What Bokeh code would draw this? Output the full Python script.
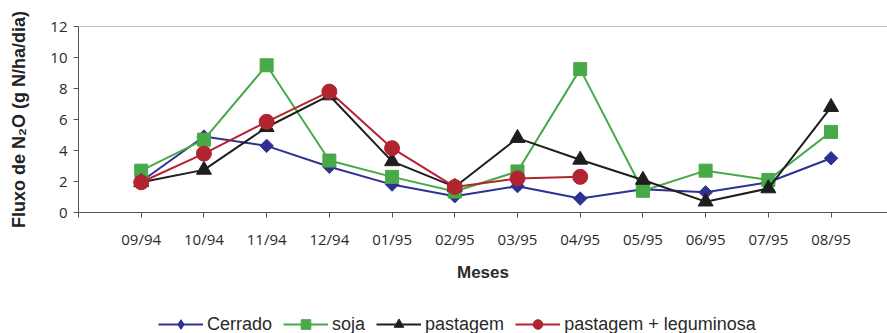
import math
from bokeh.plotting import figure
from bokeh.layouts import column
from bokeh.models import (FixedTicker, Span, Legend, LegendItem, ColumnDataSource, Range1d)
from bokeh.embed import file_html
from bokeh.resources import INLINE

meses = ["09/94", "10/94", "11/94", "12/94", "01/95", "02/95",
         "03/95", "04/95", "05/95", "06/95", "07/95", "08/95"]
cerrado = [2.0, 4.9, 4.3, 2.95, 1.8, 1.05, 1.7, 0.9, 1.5, 1.3, 1.95, 3.5]
soja = [2.7, 4.7, 9.5, 3.35, 2.3, 1.35, 2.65, 9.25, 1.4, 2.7, 2.1, 5.2]
pastagem = [1.95, 2.75, 5.5, 7.55, 3.3, 1.65, 4.8, 3.4, 2.1, 0.7, 1.55, 6.8]
pastagem_leg = [1.95, 3.8, 5.85, 7.8, 4.15, 1.65, 2.2, 2.3,
                math.nan, math.nan, math.nan, math.nan]

# name, values, colour, marker, size, angle, legend marker
series = [
    ("Cerrado", cerrado, "#2e3192", "square", 9.5, math.pi / 4, "diamond"),
    ("soja", soja, "#48a948", "square", 13, 0.0, "square"),
    ("pastagem", pastagem, "#1e1e1e", "triangle", 15, 0.0, "triangle"),
    ("pastagem + leguminosa", pastagem_leg, "#b2242f", "circle", 15, 0.0, "circle"),
]

TICK_FONT = "Open Sans"
SANS = "Liberation Sans"

p = figure(width=887, height=297, x_range=(-1, 11.9), y_range=(0, 12),
           output_backend="svg", toolbar_location=None,
           min_border_left=78, min_border_right=0, min_border_top=26,
           min_border_bottom=85)
p.outline_line_color = None
p.xgrid.grid_line_color = None
p.ygrid.grid_line_color = None

xs = list(range(len(meses)))

# x axis
p.xaxis.ticker = FixedTicker(ticks=list(range(-1, len(meses))))
overrides = {i: m for i, m in enumerate(meses)}
overrides[-1] = ""
p.xaxis.major_label_overrides = overrides
p.xaxis.minor_tick_line_color = None
p.xaxis.major_tick_in = 0
p.xaxis.major_tick_out = 5
p.xaxis.axis_line_color = "#555555"
p.xaxis.major_tick_line_color = "#555555"
p.xaxis.major_label_text_font = TICK_FONT
p.xaxis.major_label_text_font_size = "15px"
p.xaxis.major_label_text_color = "#2a2a2a"
p.xaxis.major_label_standoff = 11
p.xaxis.axis_label = "Meses"
p.xaxis.axis_label_text_font = SANS
p.xaxis.axis_label_text_font_style = "bold"
p.xaxis.axis_label_text_font_size = "17px"
p.xaxis.axis_label_text_color = "#2a2a2a"
p.xaxis.axis_label_standoff = 11

# y axis
p.yaxis.ticker = FixedTicker(ticks=[0, 2, 4, 6, 8, 10, 12])
p.yaxis.minor_tick_line_color = None
p.yaxis.major_tick_in = 0
p.yaxis.major_tick_out = 5
p.yaxis.axis_line_color = "#555555"
p.yaxis.major_tick_line_color = "#555555"
p.yaxis.major_label_text_font = TICK_FONT
p.yaxis.major_label_text_font_size = "15px"
p.yaxis.major_label_text_color = "#2a2a2a"
p.yaxis.major_label_standoff = 6
p.yaxis.axis_label = "Fluxo de N\u2082O (g N/ha/dia)"
p.yaxis.axis_label_text_font = SANS
p.yaxis.axis_label_text_font_style = "bold"
p.yaxis.axis_label_text_font_size = "18px"
p.yaxis.axis_label_text_color = "#222222"
p.yaxis.axis_label_standoff = 18

p.add_layout(Span(location=12, dimension="width", line_color="#888888", line_width=1))

# legend strip below the chart (its own ranges keep the shared data out of view)
lg = figure(width=887, height=36, output_backend="svg", toolbar_location=None,
            x_axis_type=None, y_axis_type=None,
            x_range=Range1d(100, 101), y_range=Range1d(100, 101),
            min_border_left=0, min_border_right=0, min_border_top=0,
            min_border_bottom=0)
lg.outline_line_color = None
lg.xgrid.grid_line_color = None
lg.ygrid.grid_line_color = None

items = []
for name, vals, color, marker, size, ang, lmarker in series:
    src = ColumnDataSource(dict(x=xs, y=vals))
    p.line("x", "y", source=src, line_color=color, line_width=2)
    p.scatter("x", "y", source=src, marker=marker, size=size, angle=ang,
              fill_color=color, line_color=color)
    ln = lg.line("x", "y", source=src, line_color=color, line_width=2)
    sc = lg.scatter("x", "y", source=src, marker=lmarker, size=size,
                    fill_color=color, line_color=color)
    items.append(LegendItem(label=name, renderers=[ln, sc]))

legend = Legend(items=items, orientation="horizontal", location=(80, -3),
                border_line_color=None, background_fill_alpha=0,
                padding=0, margin=0, spacing=11, glyph_width=45,
                glyph_height=24, label_standoff=4,
                label_text_font=SANS, label_text_font_size="18px",
                label_text_color="#2a2a2a")
lg.add_layout(legend, "center")

layout = column(p, lg, spacing=0)
open("out.html", "w").write(file_html(layout, INLINE))
